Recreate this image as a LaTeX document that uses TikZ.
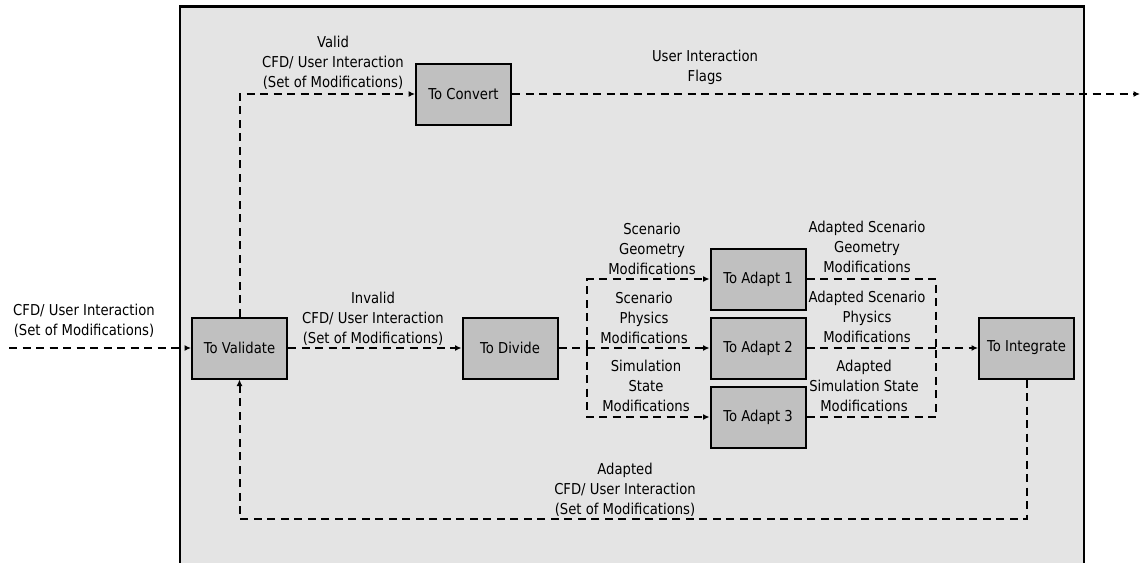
\documentclass[tikz,border=0pt]{standalone}
\usepackage{fontspec}
\setmainfont{DejaVu Sans}[FakeStretch=0.88]
\usetikzlibrary{arrows.meta}
\definecolor{boxgray}{HTML}{C0C0C0}
\definecolor{framegray}{HTML}{E4E4E4}
\begin{document}
\begin{tikzpicture}[x=1pt,y=-1pt,
  box/.style={draw=black,line width=2pt,fill=boxgray,minimum width=95pt,minimum height=61pt,inner sep=0pt,font=\fontsize{15}{20}\selectfont},
  lbl/.style={align=center,inner sep=0pt,font=\fontsize{15}{20}\selectfont},
  conn/.style={line width=2pt,dash pattern=on 8pt off 5.5pt},
  flow/.style={conn,-{Latex[length=6.5pt,width=6pt]}}]
\useasboundingbox (0,0) rectangle (1142,562);
\clip (0,0) rectangle (1142,562);
% frame
\draw[line width=2.2pt,fill=framegray] (180,6.5) rectangle (1084,600);
% boxes
\node[box] (validate) at (239.5,348) {To Validate};
\node[box] (convert) at (463.5,94) {To Convert};
\node[box] (divide) at (510,348) {To Divide};
\node[box] (adapt1) at (758,279) {To Adapt 1};
\node[box] (adapt2) at (758,348) {To Adapt 2};
\node[box] (adapt3) at (758,417) {To Adapt 3};
\node[box] (integrate) at (1026.5,348) {To Integrate};
% coordinates
\coordinate (inL) at (9,348);
\coordinate (outR) at (1140,94);
\coordinate (br) at (587,348);
\coordinate (col) at (936,348);
\coordinate (loopy) at (0,519);
% connectors
\draw[flow] (inL) -- (validate.west);
\draw[flow] (validate.north) |- (convert.west);
\draw[flow] (convert.east) -- (outR);
\draw[flow] (validate.east) -- (divide.west);
\draw[conn] (divide.east) -- (br);
\draw[flow] (br) -- (adapt2.west);
\draw[flow] (br) |- (adapt1.west);
\draw[flow] (br) |- (adapt3.west);
\draw[conn] (adapt1.east) -| (col);
\draw[conn] (adapt3.east) -| (col);
\draw[flow] (adapt2.east) -- (integrate.west);
\draw[flow] (integrate.south) -- (integrate.south |- loopy) -| (validate.south);
% labels
\node[lbl] (lin) at (84,320.5) {CFD/ User Interaction\\(Set of Modifications)};
\node[lbl] (lvalid) at (333,63) {Valid\\CFD/ User Interaction\\(Set of Modifications)};
\node[lbl] (linvalid) at (373,319) {Invalid\\CFD/ User Interaction\\(Set of Modifications)};
\node[lbl] (lflags) at (705,67.5) {User Interaction\\Flags};
\node[lbl] (lsgm) at (652,249) {Scenario\\Geometry\\Modifications};
\node[lbl] (lspm) at (644,318) {Scenario\\Physics\\Modifications};
\node[lbl] (lssm) at (646,386) {Simulation\\State\\Modifications};
\node[lbl] (lasgm) at (867,247) {Adapted Scenario\\Geometry\\Modifications};
\node[lbl] (laspm) at (867,317) {Adapted Scenario\\Physics\\Modifications};
\node[lbl] (lassm) at (864,386) {Adapted\\Simulation State\\Modifications};
\node[lbl] (lbot) at (625,490) {Adapted\\CFD/ User Interaction\\(Set of Modifications)};
\end{tikzpicture}
\end{document}
